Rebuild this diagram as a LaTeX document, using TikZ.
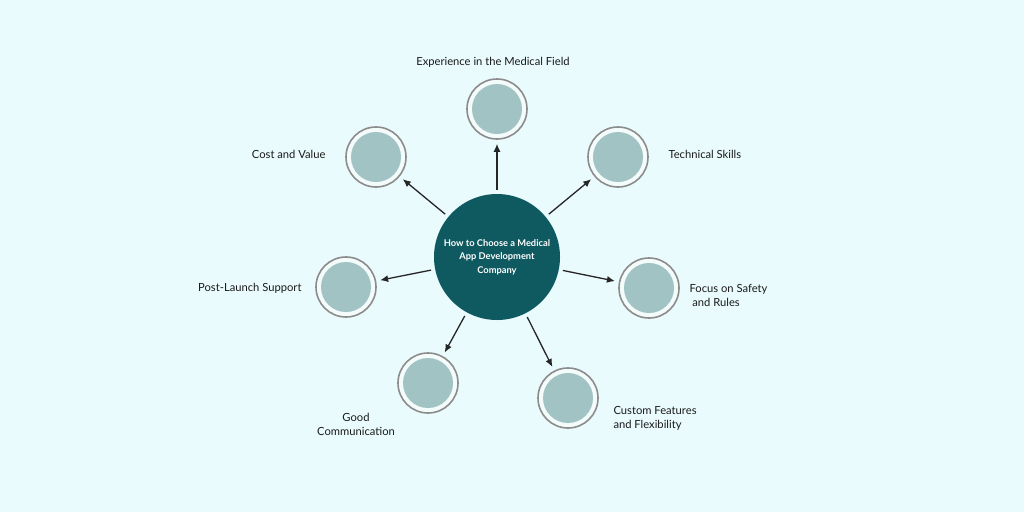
\documentclass[tikz,border=0pt]{standalone}
\usepackage{fontspec}
\setmainfont{Lato}
\usetikzlibrary{arrows.meta}
\definecolor{bgcol}{HTML}{EAFBFD}
\definecolor{hubcol}{HTML}{0F5960}
\definecolor{satin}{HTML}{A2C3C4}
\definecolor{satgap}{HTML}{F3FBFB}
\definecolor{ringcol}{HTML}{8C8C8C}
\definecolor{txtcol}{HTML}{1A1A1A}

\tikzset{
  hub/.style={circle, fill=hubcol, minimum size=126pt, inner sep=0pt,
    text=white, align=center, font=\bfseries\fontsize{9.3}{13.5}\selectfont},
  sat/.style={circle, draw=ringcol, line width=1.6pt, fill=satgap,
    minimum size=60pt, inner sep=0pt,
    path picture={\fill[satin] (path picture bounding box.center) circle (25pt);}},
  lbl/.style={text=txtcol, font=\fontsize{11.2}{14}\selectfont},
  arr/.style={-{Latex[length=8pt,width=7pt]}, line width=1.3pt, draw=black!85,
    shorten <=4pt, shorten >=4pt}
}

\begin{document}
\begin{tikzpicture}[x=1pt, y=-1pt]
  \fill[bgcol] (0,0) rectangle (1024,512);
  \useasboundingbox (0,0) rectangle (1024,512);

  \node[hub] (hub) at (497,257) {How to Choose a Medical\\App Development\\Company};

  \node[sat] (exp) at (497,109) {};
  \node[sat] (cost) at (376,157) {};
  \node[sat] (tech) at (618,157) {};
  \node[sat] (post) at (346,287) {};
  \node[sat] (focus) at (649,288) {};
  \node[sat] (comm) at (428,383) {};
  \node[sat] (custom) at (568,398) {};

  \node[lbl] (exptxt) at (493,62) {Experience in the Medical Field};
  \node[lbl, anchor=east] (costtxt) at (329,154) {Cost and Value};
  \node[lbl, anchor=west] (techtxt) at (665,154) {Technical Skills};
  \node[lbl, anchor=east] (posttxt) at (305,288) {Post-Launch Support};
  \node[lbl, anchor=west, align=left] (focustxt) at (686,295) {Focus on Safety\\\ and Rules};
  \node[lbl, align=center] (commtxt) at (356,424) {Good\\Communication};
  \node[lbl, anchor=west, align=left] (customtxt) at (610,418) {Custom Features\\and Flexibility};

  \draw[arr] (hub) -- (exp);
  \draw[arr] (hub) -- (cost);
  \draw[arr] (hub) -- (tech);
  \draw[arr] (hub) -- (post);
  \draw[arr] (hub) -- (focus);
  \draw[arr] (hub) -- (comm);
  \draw[arr] (hub) -- (custom);

\end{tikzpicture}
\end{document}
